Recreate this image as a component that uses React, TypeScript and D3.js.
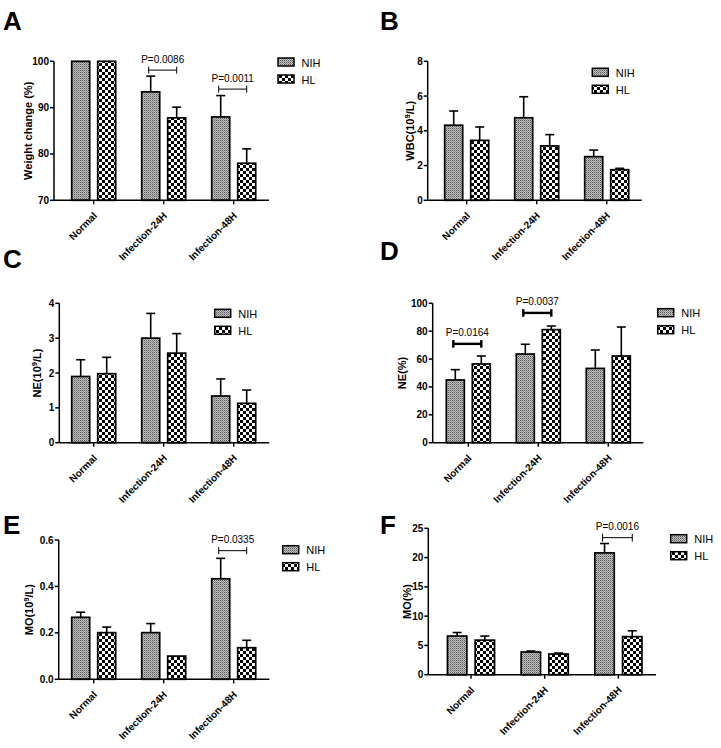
import React from "react";
import * as d3 from "d3";

const categories = ["Normal", "Infection-24H", "Infection-48H"];
const series = ["NIH", "HL"];

// Panel A: Weight change (%)
const weightNIH = [100, 93.4, 88.0];
const weightNIHSD = [0, 3.4, 4.6];
const weightHL = [100, 87.8, 78.0];
const weightHLSD = [0, 2.3, 3.1];
const weightTicks = [70, 80, 90, 100];
const weightSig = [
  { cat: 1, label: "P=0.0086", level: 98.1 },
  { cat: 2, label: "P=0.0011", level: 94.0 },
];

// Panel B: WBC
const wbcNIH = [4.32, 4.75, 2.51];
const wbcNIHSD = [0.82, 1.21, 0.38];
const wbcHL = [3.45, 3.13, 1.76];
const wbcHLSD = [0.77, 0.65, 0.08];
const wbcTicks = [0, 2, 4, 6, 8];

// Panel C: NE (10^9/L)
const neNIH = [1.9, 3.0, 1.34];
const neNIHSD = [0.48, 0.71, 0.49];
const neHL = [1.98, 2.57, 1.13];
const neHLSD = [0.47, 0.56, 0.38];
const neTicks = [0, 1, 2, 3, 4];

// Panel D: NE (%)
const nePctNIH = [45.0, 63.6, 53.3];
const nePctNIHSD = [7.4, 7.0, 13.2];
const nePctHL = [56.5, 81.1, 62.2];
const nePctHLSD = [5.7, 2.6, 20.8];
const nePctTicks = [0, 20, 40, 60, 80, 100];
const nePctSig = [
  { cat: 0, label: "P=0.0164", level: 70.9 },
  { cat: 1, label: "P=0.0037", level: 93.1 },
];

// Panel E: MO (10^9/L)
const moNIH = [0.267, 0.201, 0.433];
const moNIHSD = [0.022, 0.039, 0.088];
const moHL = [0.201, 0.1, 0.136];
const moHLSD = [0.024, 0, 0.032];
const moTicks = [0, 0.2, 0.4, 0.6];
const moSig = [{ cat: 2, label: "P=0.0335", level: 0.554 }];

// Panel F: MO (%)
const moPctNIH = [6.6, 3.87, 20.8];
const moPctNIHSD = [0.6, 0.17, 1.6];
const moPctHL = [5.9, 3.53, 6.5];
const moPctHLSD = [0.7, 0.17, 1.0];
const moPctTicks = [0, 5, 10, 15, 20, 25];
const moPctSig = [{ cat: 2, label: "P=0.0016", level: 23.4 }];

const FONT = "'Liberation Sans', Arial, Helvetica, sans-serif";

type Sig = { cat: number; label: string; level: number };
type PanelCfg = {
  letter: string;
  letterX: number;
  letterY: number;
  axisLeft: number;
  axisRight: number;
  top: number;
  bottom: number;
  domain: [number, number];
  ticks: number[];
  fmt: (v: number) => string;
  firstCenter: number;
  step: number;
  barW: number;
  gap: number;
  nih: number[];
  nihSD: number[];
  hl: number[];
  hlSD: number[];
  title: React.ReactNode;
  titleX: number;
  legendX: number;
  legendY: number;
  sig: Sig[];
  sigStroke: number;
  sigTick: number;
};

const fmtInt = (v: number) => d3.format("d")(v);
const fmt1 = (v: number) => d3.format(".1f")(v);

const sup9 = (pre: string, post: string) => (
  <>
    {pre}
    <tspan dy={-4} fontSize={7.5}>
      9
    </tspan>
    <tspan dy={4}>{post}</tspan>
  </>
);

const panels: PanelCfg[] = [
  {
    letter: "A", letterX: 3, letterY: 30,
    axisLeft: 54, axisRight: 269, top: 61.3, bottom: 200.3,
    domain: [70, 100], ticks: weightTicks, fmt: fmtInt,
    firstCenter: 93.7, step: 70, barW: 18, gap: 8,
    nih: weightNIH, nihSD: weightNIHSD, hl: weightHL, hlSD: weightHLSD,
    title: "Weight change (%)", titleX: 27.5,
    legendX: 278, legendY: 58, sig: weightSig, sigStroke: 1, sigTick: 3.5,
  },
  {
    letter: "B", letterX: 380, letterY: 30,
    axisLeft: 427.7, axisRight: 641.7, top: 61.3, bottom: 200.3,
    domain: [0, 8], ticks: wbcTicks, fmt: fmtInt,
    firstCenter: 466.7, step: 70, barW: 18, gap: 8,
    nih: wbcNIH, nihSD: wbcNIHSD, hl: wbcHL, hlSD: wbcHLSD,
    title: sup9("WBC(10", "/L)"), titleX: 409.5,
    legendX: 592.3, legendY: 68.3, sig: [], sigStroke: 1, sigTick: 3.5,
  },
  {
    letter: "C", letterX: 3, letterY: 268,
    axisLeft: 59.3, axisRight: 269.3, top: 303.3, bottom: 442.7,
    domain: [0, 4], ticks: neTicks, fmt: fmtInt,
    firstCenter: 93.7, step: 70, barW: 18, gap: 8,
    nih: neNIH, nihSD: neNIHSD, hl: neHL, hlSD: neHLSD,
    title: sup9("NE(10", "/L)"), titleX: 37,
    legendX: 214.7, legendY: 309.3, sig: [], sigStroke: 1, sigTick: 3.5,
  },
  {
    letter: "D", letterX: 380, letterY: 260,
    axisLeft: 432.7, axisRight: 643.3, top: 303.3, bottom: 442.7,
    domain: [0, 100], ticks: nePctTicks, fmt: fmtInt,
    firstCenter: 468.3, step: 70, barW: 18, gap: 8,
    nih: nePctNIH, nihSD: nePctNIHSD, hl: nePctHL, hlSD: nePctHLSD,
    title: "NE(%)", titleX: 402,
    legendX: 657.7, legendY: 308.7, sig: nePctSig, sigStroke: 2.4, sigTick: 3.8,
  },
  {
    letter: "E", letterX: 3, letterY: 534,
    axisLeft: 58.7, axisRight: 269.3, top: 540, bottom: 679.3,
    domain: [0, 0.6], ticks: moTicks, fmt: fmt1,
    firstCenter: 93.7, step: 70, barW: 18, gap: 8,
    nih: moNIH, nihSD: moNIHSD, hl: moHL, hlSD: moHLSD,
    title: sup9("MO(10", "/L)"), titleX: 28.5,
    legendX: 282.7, legendY: 545.7, sig: moSig, sigStroke: 1, sigTick: 3.5,
  },
  {
    letter: "F", letterX: 380, letterY: 534,
    axisLeft: 428.3, axisRight: 656, top: 528.3, bottom: 674.7,
    domain: [0, 25], ticks: moPctTicks, fmt: fmtInt,
    firstCenter: 471, step: 73.7, barW: 19.4, gap: 8.3,
    nih: moPctNIH, nihSD: moPctNIHSD, hl: moPctHL, hlSD: moPctHLSD,
    title: "MO(%)", titleX: 407,
    legendX: 670.7, legendY: 534.7, sig: moPctSig, sigStroke: 1, sigTick: 4,
  },
];

const fillFor: Record<string, string> = { NIH: "url(#patNIH)", HL: "url(#patHL)" };

function Panel({ cfg }: { cfg: PanelCfg }) {
  const x = d3
    .scaleBand<string>()
    .domain(categories)
    .range([cfg.firstCenter - cfg.step / 2, cfg.firstCenter + cfg.step * 2.5])
    .padding(0);
  const center = (c: string) => (x(c) as number) + x.bandwidth() / 2;
  const total = cfg.barW * 2 + cfg.gap;
  const inner = d3
    .scaleBand<string>()
    .domain(series)
    .range([-total / 2, total / 2])
    .paddingInner(cfg.gap / (cfg.barW + cfg.gap))
    .paddingOuter(0);
  const y = d3.scaleLinear().domain(cfg.domain).range([cfg.bottom, cfg.top]);
  const values: Record<string, number[]> = { NIH: cfg.nih, HL: cfg.hl };
  const sds: Record<string, number[]> = { NIH: cfg.nihSD, HL: cfg.hlSD };
  const midY = (cfg.top + cfg.bottom) / 2;
  const capW = 9;

  return (
    <g>
      <text x={cfg.letterX} y={cfg.letterY} fontFamily={FONT} fontWeight="bold" fontSize={26}>
        {cfg.letter}
      </text>
      {categories.map((c, ci) =>
        series.map((s) => {
          const bx = center(c) + (inner(s) as number);
          const v = values[s][ci];
          const sd = sds[s][ci];
          const bw = inner.bandwidth();
          return (
            <g key={c + s}>
              {sd > 0 && (
                <g stroke="#000" strokeWidth={1.6}>
                  <line x1={bx + bw / 2} x2={bx + bw / 2} y1={y(v)} y2={y(v + sd)} />
                  <line x1={bx + bw / 2 - capW / 2} x2={bx + bw / 2 + capW / 2} y1={y(v + sd)} y2={y(v + sd)} />
                </g>
              )}
              <rect
                x={bx}
                y={y(v)}
                width={bw}
                height={cfg.bottom - y(v)}
                fill={fillFor[s]}
                stroke="#000"
                strokeWidth={1.7}
              />
            </g>
          );
        })
      )}
      <line x1={cfg.axisLeft} x2={cfg.axisLeft} y1={cfg.top} y2={cfg.bottom} stroke="#000" strokeWidth={1.5} />
      {cfg.ticks.map((t) => (
        <g key={t}>
          <line x1={cfg.axisLeft - 4} x2={cfg.axisLeft} y1={y(t)} y2={y(t)} stroke="#000" strokeWidth={1.5} />
          <text
            x={cfg.axisLeft - 5}
            y={y(t) + 3.5}
            textAnchor="end"
            fontFamily={FONT}
            fontWeight="bold"
            fontSize={10}
          >
            {cfg.fmt(t)}
          </text>
        </g>
      ))}
      <line x1={cfg.axisLeft} x2={cfg.axisRight} y1={cfg.bottom} y2={cfg.bottom} stroke="#000" strokeWidth={1.5} />
      {categories.map((c) => (
        <g key={c}>
          <line x1={center(c)} x2={center(c)} y1={cfg.bottom} y2={cfg.bottom + 4} stroke="#000" strokeWidth={1.5} />
          <text
            transform={`translate(${center(c) + 4},${cfg.bottom + 16}) rotate(-45)`}
            textAnchor="end"
            fontFamily={FONT}
            fontWeight="bold"
            fontSize={10}
          >
            {c}
          </text>
        </g>
      ))}
      <text
        transform={`translate(${cfg.titleX + 4},${midY}) rotate(-90)`}
        textAnchor="middle"
        fontFamily={FONT}
        fontWeight="bold"
        fontSize={11}
      >
        {cfg.title}
      </text>
      {cfg.sig.map((sg) => {
        const c = categories[sg.cat];
        const bw = inner.bandwidth();
        const x1 = center(c) + (inner("NIH") as number) + bw / 2 - 2;
        const x2 = center(c) + (inner("HL") as number) + bw / 2;
        const yy = y(sg.level);
        return (
          <g key={sg.label}>
            <g stroke="#000" strokeWidth={cfg.sigStroke}>
              <line x1={x1} x2={x2} y1={yy} y2={yy} />
              <line x1={x1} x2={x1} y1={yy - cfg.sigTick} y2={yy + cfg.sigTick} />
              <line x1={x2} x2={x2} y1={yy - cfg.sigTick} y2={yy + cfg.sigTick} />
            </g>
            <text x={(x1 + x2) / 2} y={yy - 7.5} textAnchor="middle" fontFamily={FONT} fontSize={10}>
              {sg.label}
            </text>
          </g>
        );
      })}
      {series.map((s, i) => (
        <g key={s}>
          <rect
            x={cfg.legendX}
            y={cfg.legendY + i * 17}
            width={16}
            height={8}
            fill={fillFor[s]}
            stroke="#000"
            strokeWidth={1.5}
          />
          <text x={cfg.legendX + 23.5} y={cfg.legendY + i * 17 + 8.5} fontFamily={FONT} fontSize={11}>
            {s}
          </text>
        </g>
      ))}
    </g>
  );
}

export default function App() {
  return (
    <div style={{ position: "absolute", left: 0, top: 0 }}>
      <svg width={721} height={748} style={{ display: "block", background: "#fff" }}>
        <defs>
          <pattern id="patNIH" patternUnits="userSpaceOnUse" width={2} height={2}>
            <rect width={2} height={2} fill="#c4c4c4" />
            <rect width={1} height={1} fill="#555" />
            <rect x={1} y={1} width={1} height={1} fill="#8a8a8a" />
          </pattern>
          <pattern id="patHL" patternUnits="userSpaceOnUse" width={6} height={6}>
            <rect width={6} height={6} fill="#fff" />
            <rect width={3} height={3} fill="#000" />
            <rect x={3} y={3} width={3} height={3} fill="#000" />
          </pattern>
        </defs>
        <rect width={721} height={748} fill="#fff" />
        {panels.map((p) => (
          <Panel key={p.letter} cfg={p} />
        ))}
      </svg>
    </div>
  );
}
